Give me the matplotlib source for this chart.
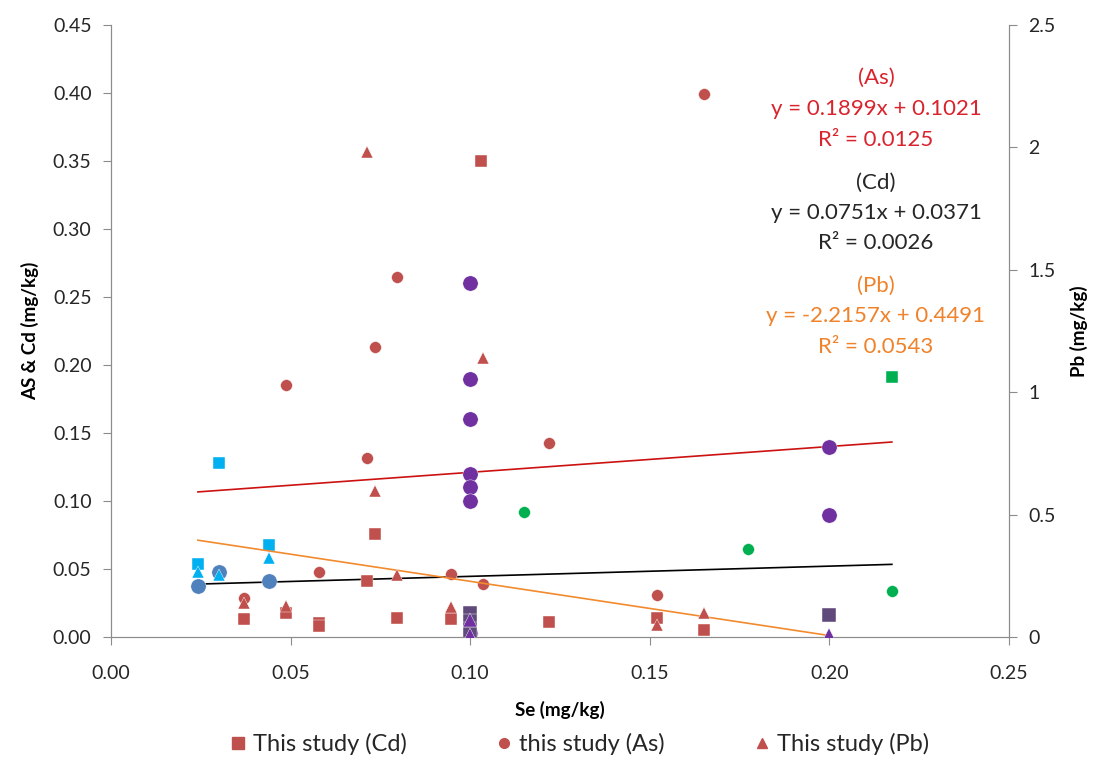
import matplotlib
matplotlib.use("Agg")
import matplotlib.pyplot as plt
from matplotlib.lines import Line2D
import numpy as np

plt.rcParams['font.family'] = ['Lato', 'DejaVu Sans']

# this study (red)
cd_x = [0.103, 0.0735, 0.0713, 0.037, 0.0487, 0.058, 0.058, 0.0796, 0.0947, 0.122, 0.152, 0.165]
cd_y = [0.350, 0.076, 0.041, 0.013, 0.018, 0.010, 0.008, 0.014, 0.013, 0.011, 0.014, 0.005]
as_x = [0.165, 0.0796, 0.0735, 0.0487, 0.0713, 0.122, 0.0947, 0.1036, 0.058, 0.037, 0.152]
as_y = [0.399, 0.265, 0.213, 0.185, 0.132, 0.143, 0.046, 0.039, 0.048, 0.029, 0.031]
pb_x = [0.0713, 0.1036, 0.0735, 0.0796, 0.0947, 0.0487, 0.037, 0.165, 0.152]
pb_y = [1.98, 1.14, 0.596, 0.253, 0.122, 0.127, 0.14, 0.098, 0.049]

# other studies (blue)
blue_cd_x = [0.030, 0.044, 0.0242]
blue_cd_y = [0.128, 0.068, 0.054]
blue_as_x = [0.0242, 0.030, 0.044]
blue_as_y = [0.0375, 0.048, 0.041]
blue_pb_x = [0.0242, 0.030, 0.044]
blue_pb_y = [0.266, 0.253, 0.323]

# other studies (purple)
purple_as_x = [0.1, 0.1, 0.1, 0.1, 0.1, 0.1, 0.1, 0.2, 0.2]
purple_as_y = [0.26, 0.19, 0.16, 0.12, 0.11, 0.10, 0.003, 0.14, 0.09]
purple_cd_x = [0.1, 0.1, 0.1, 0.1, 0.2]
purple_cd_y = [0.018, 0.012, 0.006, 0.002, 0.016]
purple_pb_x = [0.1, 0.1, 0.2]
purple_pb_y = [0.07, 0.01, 0.008]

# other studies (green)
green_cd_x = [0.2174]
green_cd_y = [0.191]
green_as_x = [0.115, 0.1774, 0.2174]
green_as_y = [0.092, 0.065, 0.034]

# trend lines (slope, intercept, x range)
as_fit = (0.1899, 0.1021, 0.0242, 0.2174)
cd_fit = (0.0751, 0.0371, 0.0242, 0.2174)
pb_fit = (-2.2157, 0.4491, 0.0242, 0.2)

RED = '#C0504D'
BLUE_SQ = '#00B0F0'
BLUE_CI = '#4F81BD'
PURPLE = '#7030A0'
PURPLE_SQ = '#604A7B'
GREEN = '#00B050'

fig = plt.figure(figsize=(10.98, 7.58), dpi=100)
ax = fig.add_axes([0.1011, 0.1596, 0.8178, 0.8074])
ax2 = ax.twinx()

def fit_line(a, slope, icept, x0, x1, color):
    xs = np.array([x0, x1])
    a.plot(xs, slope * xs + icept, color=color, lw=1.2, zorder=2)

fit_line(ax, *as_fit, '#CC1111')
fit_line(ax, *cd_fit, 'black')
fit_line(ax2, *pb_fit, '#F28A2E')

# left axis markers
ax.plot(cd_x, cd_y, 's', color=RED, ms=8.5, mec='white', mew=0.3, zorder=3)
ax.plot(as_x, as_y, 'o', color=RED, ms=8.5, mec='white', mew=0.3, zorder=3)
ax.plot(blue_cd_x, blue_cd_y, 's', color=BLUE_SQ, ms=8.5, mec='white', mew=0.3, zorder=3)
ax.plot(blue_as_x, blue_as_y, 'o', color=BLUE_CI, ms=11, mec='white', mew=0.3, zorder=3)
ax.plot(purple_as_x, purple_as_y, 'o', color=PURPLE, ms=11, mec='white', mew=0.3, zorder=3)
ax.plot(purple_cd_x, purple_cd_y, 's', color=PURPLE_SQ, ms=10, mec='white', mew=0.3, zorder=3)
ax.plot(green_cd_x, green_cd_y, 's', color=GREEN, ms=8.5, mec='white', mew=0.3, zorder=3)
ax.plot(green_as_x, green_as_y, 'o', color=GREEN, ms=8.5, mec='white', mew=0.3, zorder=3)

# right axis markers
ax2.plot(pb_x, pb_y, '^', color=RED, ms=8.5, mec='white', mew=0.3, zorder=3)
ax2.plot(blue_pb_x, blue_pb_y, '^', color=BLUE_SQ, ms=8.5, mec='white', mew=0.3, zorder=3)
ax2.plot(purple_pb_x, purple_pb_y, '^', color=PURPLE, ms=9.5, mec='white', mew=0.3, zorder=3)

ax.set_xlim(0, 0.25)
ax.set_ylim(0, 0.45)
ax2.set_ylim(0, 2.5)
ax.set_xticks(np.arange(0, 0.2501, 0.05))
ax.set_yticks(np.arange(0, 0.4501, 0.05))
ax2.set_yticks([0, 0.5, 1, 1.5, 2, 2.5])
ax.set_xticklabels(['%.2f' % v for v in np.arange(0, 0.2501, 0.05)])
ax.set_yticklabels(['%.2f' % v for v in np.arange(0, 0.4501, 0.05)])
ax2.set_yticklabels(['0', '0.5', '1', '1.5', '2', '2.5'])

for a in (ax, ax2):
    a.spines['top'].set_visible(False)
    for s in ('left', 'right', 'bottom'):
        a.spines[s].set_color('#8C8C8C')
    a.tick_params(direction='out', length=6, color='#8C8C8C', labelsize=14,
                  labelcolor='#262626')
ax.tick_params(axis='x', pad=14)
ax.tick_params(axis='y', pad=8)
ax2.tick_params(axis='y', pad=8)

ax.set_xlabel('Se (mg/kg)', fontsize=13.5, fontweight='bold', labelpad=14)
ax.set_ylabel('AS & Cd (mg/kg)', fontsize=13.5, fontweight='bold', labelpad=10)
ax2.set_ylabel('Pb (mg/kg)', fontsize=13.5, fontweight='bold', labelpad=10)

# regression labels
labels = [
    ('(As)', 78, '#D9232D'), ('y = 0.1899x + 0.1021', 109, '#D9232D'), ('R² = 0.0125', 140, '#D9232D'),
    ('(Cd)', 183, '#262626'), ('y = 0.0751x + 0.0371', 213, '#262626'), ('R² = 0.0026', 243, '#262626'),
    ('(Pb)', 286, '#F0822A'), ('y = -2.2157x + 0.4491', 316, '#F0822A'), ('R² = 0.0543', 347, '#F0822A'),
]
for txt, py, c in labels:
    fig.text(876 / 1098, 1 - py / 758, txt, ha='center', va='center', fontsize=16, color=c)

handles = [
    Line2D([], [], ls='none', marker='s', color=RED, ms=8),
    Line2D([], [], ls='none', marker='o', color=RED, ms=7),
    Line2D([], [], ls='none', marker='^', color=RED, ms=7),
]
fig.legend(handles, ['This study (Cd)', 'this study (As)', 'This study (Pb)'],
           loc='center', bbox_to_anchor=(0.527, 0.018), ncol=3, frameon=False,
           fontsize=17, columnspacing=3.7, handletextpad=0.25, handlelength=0.8,
           labelcolor='#262626')

fig.savefig('out.png', dpi=100)
